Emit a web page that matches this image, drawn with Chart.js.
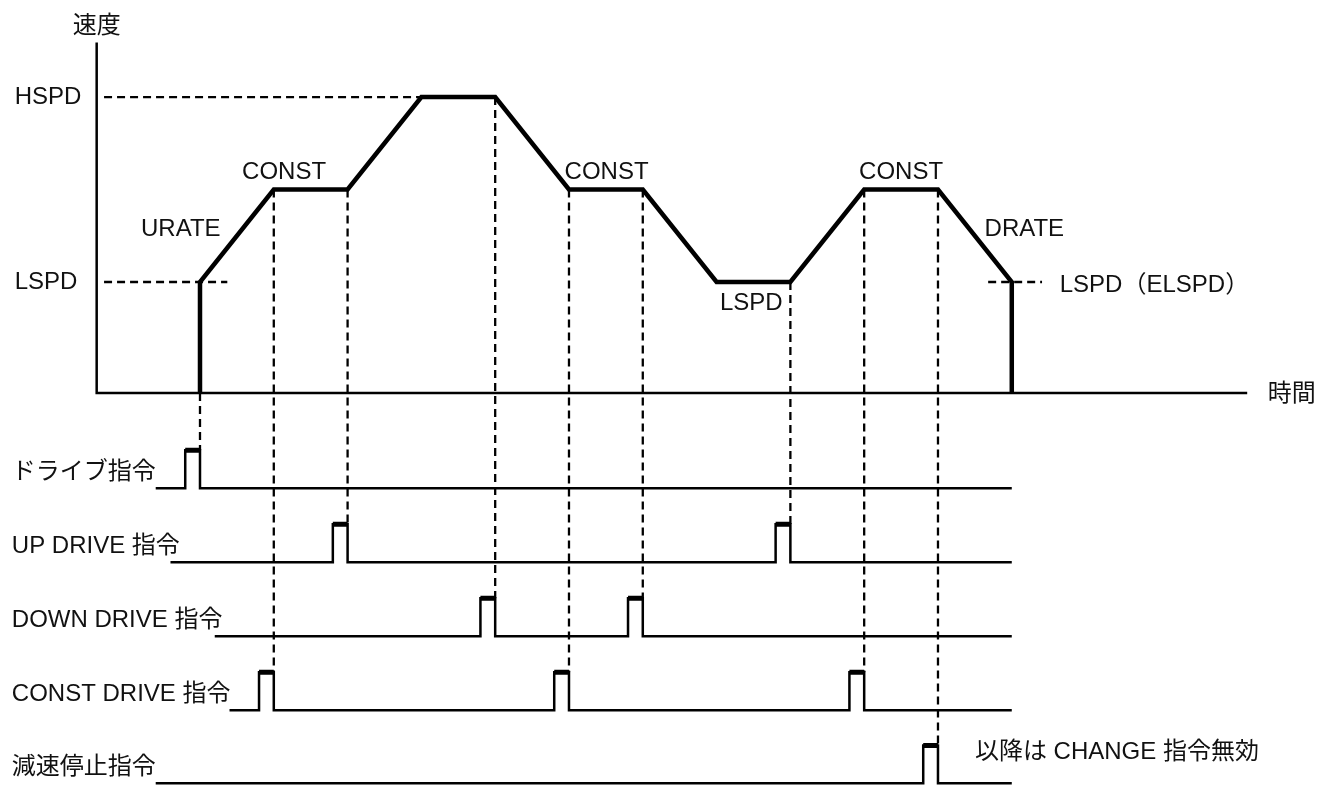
<!DOCTYPE html>
<html>
<head>
<meta charset="utf-8">
<script src="https://cdn.jsdelivr.net/npm/chart.js@4"></script>
<style>
  html, body { margin: 0; padding: 0; background: #fff; }
  #wrap { width: 1319px; height: 785px; }
</style>
</head>
<body>
<div id="wrap"><canvas id="myChart"></canvas></div>
<script>
// speed levels (arbitrary units) and the speed profile, time in steps
const LSPD = 1.2, CONST = 2.2, HSPD = 3.2;
const profileTime  = [0, 0, 1, 2, 3, 4, 5, 6, 7, 8, 9, 10, 11, 11];
const profileSpeed = [0, LSPD, CONST, CONST, HSPD, HSPD, CONST, CONST, LSPD, LSPD, CONST, CONST, LSPD, 0];

// axes of the speed graph
const axisTime = -1.4, axisTop = 3.79, axisEnd = 14.19;

// dashed speed guides: level, from, to
const guideLevel = [HSPD, LSPD, LSPD];
const guideFrom  = [-1.3, -1.3, 10.68];
const guideTo    = [3, 0.37, 11.41];

// command signals (one row each), pulses end at the listed step
const signalNames  = ['ドライブ指令', 'UP DRIVE 指令', 'DOWN DRIVE 指令', 'CONST DRIVE 指令', '減速停止指令'];
const signalBase   = [-1.03, -1.83, -2.63, -3.43, -4.22];
const signalStart  = [-0.6, -0.4, 0.2, 0.4, -0.6];
const signalPulses = [[0], [2, 8], [4, 6], [1, 5, 9], [10]];
const signalEnd = 11;
const pulseWidth = 0.2, pulseHeight = 0.41;

// text labels
const labelText = ['速度', 'HSPD', 'LSPD', 'URATE', 'CONST', 'CONST', 'CONST', 'DRATE', 'LSPD',
                   'LSPD（ELSPD）', '時間', '以降は CHANGE 指令無効'];
const labelX = [axisTime, -2.51, -2.51, -0.26, 1.14, 5.51, 9.5, 11.17, 7.47, 11.65, 14.47, 10.5];
const labelY = [3.96, HSPD, LSPD, 1.77, 2.39, 2.38, 2.39, 1.77, 0.97, 1.16, -0.02, -3.88];
const labelAlign = ['center', 'left', 'left', 'center', 'center', 'center', 'center', 'center', 'center',
                    'left', 'left', 'left'];

// ---- build datasets ----
const gap = (x) => ({ x: x, y: null });

const profile = profileTime.map((t, i) => ({ x: t, y: profileSpeed[i] }));

const axes = [{ x: axisTime, y: axisTop }, { x: axisTime, y: 0 }, { x: axisEnd, y: 0 }];

const levelGuides = [];
guideLevel.forEach((v, i) => {
  levelGuides.push({ x: guideFrom[i], y: v }, { x: guideTo[i], y: v }, gap(guideTo[i]));
});

function speedAt(t) {
  return profileSpeed[profileTime.indexOf(t)];
}

const timeGuides = [];
const traces = [];
const tops = [];
signalPulses.forEach((pulses, r) => {
  const base = signalBase[r];
  const top = base + pulseHeight;
  traces.push({ x: signalStart[r], y: base });
  pulses.forEach((t) => {
    traces.push({ x: t - pulseWidth, y: base }, { x: t - pulseWidth, y: top },
                { x: t, y: top }, { x: t, y: base });
    tops.push({ x: t - pulseWidth, y: top }, { x: t, y: top }, gap(t));
    timeGuides.push({ x: t, y: speedAt(t) }, { x: t, y: top }, gap(t));
  });
  traces.push({ x: signalEnd, y: base }, gap(signalEnd));
});

const lineSet = (data, width, dash) => ({
  data: data,
  borderColor: '#000',
  borderWidth: width,
  borderDash: dash || [],
  pointRadius: 0,
  tension: 0,
  spanGaps: false,
  borderJoinStyle: 'miter',
  borderCapStyle: 'butt'
});

// draws the texts at data positions
const textPlugin = {
  id: 'texts',
  afterDatasetsDraw(chart) {
    const ctx = chart.ctx;
    const xs = chart.scales.x, ys = chart.scales.y;
    ctx.save();
    ctx.fillStyle = '#111';
    ctx.font = '24px "Liberation Sans", Arial, "Noto Sans CJK JP", sans-serif';
    ctx.textBaseline = 'middle';
    labelText.forEach((txt, i) => {
      ctx.textAlign = labelAlign[i];
      ctx.fillText(txt, xs.getPixelForValue(labelX[i]), ys.getPixelForValue(labelY[i]));
    });
    ctx.textAlign = 'left';
    signalNames.forEach((txt, r) => {
      ctx.fillText(txt, xs.getPixelForValue(-2.55), ys.getPixelForValue(signalBase[r] + 0.17));
    });
    ctx.restore();
  }
};

const ctx = document.getElementById('myChart').getContext('2d');

const myChart = new Chart(ctx, {
  type: 'line',
  data: {
    datasets: [
      lineSet(profile, 4.5),
      lineSet(axes, 2.5),
      lineSet(tops, 5),
      lineSet(traces, 2.5),
      lineSet(levelGuides, 2.3, [8, 5]),
      lineSet(timeGuides, 2.3, [8, 5])
    ]
  },
  options: {
    responsive: true,
    maintainAspectRatio: false,
    animation: false,
    layout: { padding: 0 },
    plugins: {
      legend: { display: false },
      tooltip: { enabled: false }
    },
    scales: {
      x: { type: 'linear', min: -2.71, max: 15.163, display: false },
      y: { type: 'linear', min: -4.238, max: 4.249, display: false }
    }
  },
  plugins: [textPlugin]
});
</script>
</body>
</html>
